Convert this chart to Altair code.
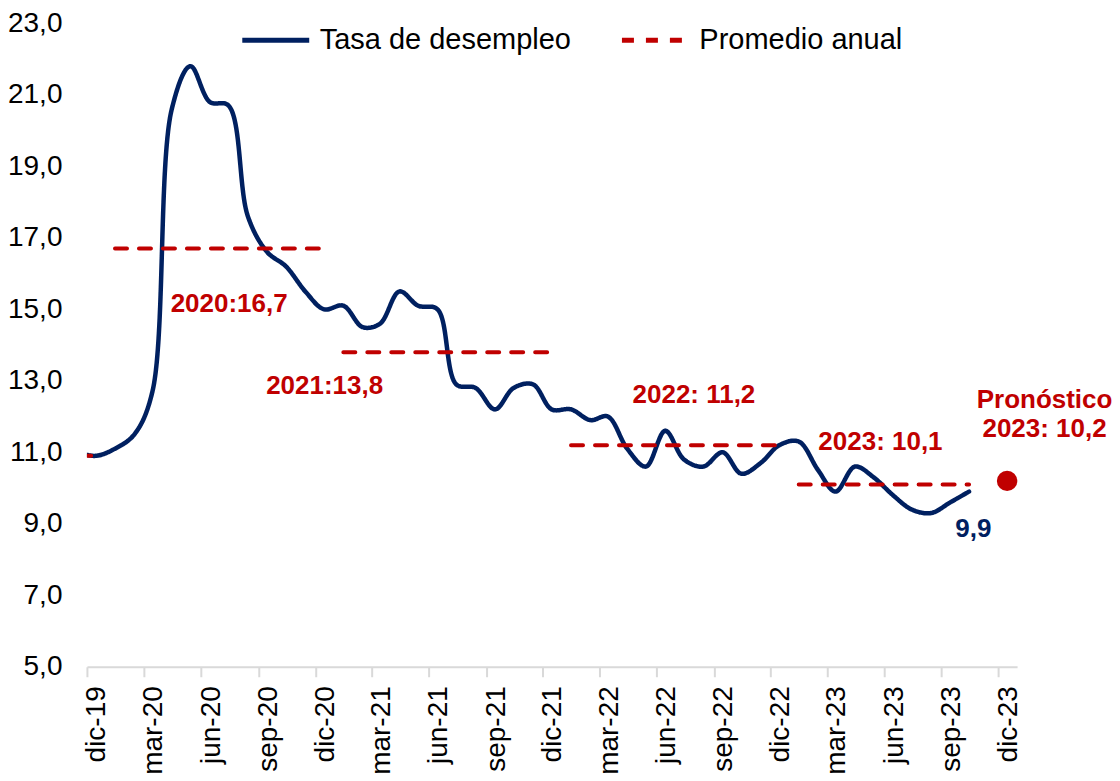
import json
import altair as alt
import pandas as pd

# ---------------- data ----------------
MESES = ["ene", "feb", "mar", "abr", "may", "jun", "jul", "ago", "sep", "oct", "nov", "dic"]

# monthly series nov-19 .. oct-23 (plotted at mid-month, like the original)
PRIMER_MES = "2019-11-01"
ULTIMO_MES = "2023-10-01"
TASA = [
    11.0, 10.9,                                                             # nov-19, dic-19
    11.1, 11.5, 12.7, 20.6, 21.8, 20.8, 20.7, 17.6, 16.6, 16.2, 15.5, 15.0,  # 2020
    15.1, 14.5, 14.6, 15.5, 15.1, 15.0, 12.9, 12.8, 12.2, 12.8, 12.9, 12.2,  # 2021
    12.2, 11.9, 12.0, 11.1, 10.6, 11.6, 10.8, 10.6, 11.0, 10.4, 10.7, 11.2,  # 2022
    11.3, 10.5, 9.9, 10.6, 10.3, 9.8, 9.4, 9.3, 9.6, 9.9,                    # 2023
]

ANIOS_PROM = [2019, 2020, 2021, 2022, 2023]
PROMEDIOS = [10.9, 16.7, 13.8, 11.2, 10.1]
PROM_INICIO = ["2019-01-15", "2020-01-15", "2021-01-15", "2022-01-15", "2023-01-15"]
PROM_FIN = ["2019-12-15", "2020-12-15", "2021-12-15", "2022-12-15", "2023-10-15"]

PRONOSTICO_FECHA = "2023-12-15"
PRONOSTICO = 10.2

ETIQUETAS = ["2020:16,7", "2021:13,8", "2022: 11,2", "2023: 10,1", "9,9", "Pronóstico\n2023: 10,2"]
ETQ_FECHA = ["2020-07-16", "2020-12-16", "2022-07-31", "2023-05-26", "2023-10-22", "2024-02-13"]
ETQ_VALOR = [15.15, 12.85, 12.6, 11.3, 8.86, 12.47]
ETQ_SERIE = ["Promedio anual"] * 4 + ["Tasa de desempleo", "Promedio anual"]

SERIES = ["Tasa de desempleo", "Promedio anual"]
Y_TICKS = [5, 7, 9, 11, 13, 15, 17, 19, 21, 23]
X_TICKS = pd.date_range("2019-12-01", "2023-12-01", freq="3MS")
X_DOMINIO = ["2019-12-01", "2023-12-31"]

# ---------------- styling ----------------
AZUL = "#002060"
ROJO = "#C00000"
FUENTE = "Liberation Sans"


def ms(d):
    return int(pd.Timestamp(d, tz="UTC").value // 10**6)


fechas = (pd.date_range(PRIMER_MES, ULTIMO_MES, freq="MS") + pd.Timedelta(days=14)).strftime("%Y-%m-%d")
df_tasa = pd.DataFrame({"fecha": list(fechas), "valor": TASA, "serie": SERIES[0]})

rows = []
for a, v, i, f in zip(ANIOS_PROM, PROMEDIOS, PROM_INICIO, PROM_FIN):
    rows.append({"fecha": i, "valor": v, "serie": SERIES[1], "anio": a})
    rows.append({"fecha": f, "valor": v, "serie": SERIES[1], "anio": a})
df_prom = pd.DataFrame(rows)

df_pron = pd.DataFrame({"fecha": [PRONOSTICO_FECHA], "valor": [PRONOSTICO]})
df_etq = pd.DataFrame({
    "fecha": ETQ_FECHA, "valor": ETQ_VALOR, "texto": ETIQUETAS,
    "color": [AZUL if s == SERIES[0] else ROJO for s in ETQ_SERIE],
})

label_expr = (json.dumps(MESES).replace('"', "'")
              + "[utcmonth(datum.value)] + '-' + utcFormat(datum.value, '%y')")

x_enc = alt.X(
    "fecha:T",
    title=None,
    scale=alt.Scale(type="utc", domain=[ms(X_DOMINIO[0]), ms(X_DOMINIO[1])]),
    axis=alt.Axis(
        values=[ms(t) for t in X_TICKS],
        labelExpr=label_expr,
        labelAngle=-90,
        labelFontSize=28,
        labelFont=FUENTE,
        labelColor="black",
        labelPadding=9,
        labelOffset=10,
        labelOverlap=False,
        labelFlush=False,
        labelBound=False,
        tickSize=10,
        tickWidth=2,
        tickColor="#D9D9D9",
        domainColor="#D9D9D9",
        domainWidth=2,
        grid=False,
    ),
)
y_enc = alt.Y(
    "valor:Q",
    title=None,
    scale=alt.Scale(domain=[5, 23], nice=False, zero=False),
    axis=alt.Axis(
        values=Y_TICKS,
        labelExpr="replace(format(datum.value, '.1f'), '.', ',')",
        labelFontSize=28,
        labelFont=FUENTE,
        labelColor="black",
        labelPadding=25,
        domain=False,
        ticks=False,
        grid=False,
    ),
)

leyenda = alt.Legend(
    title=None,
    orient="none",
    legendX=153,
    legendY=-19,
    direction="horizontal",
    symbolType="stroke",
    symbolSize=4489,
    symbolStrokeWidth=5,
    labelFontSize=29,
    labelFont=FUENTE,
    labelColor="black",
    labelOffset=8,
    labelLimit=400,
    columnPadding=40,
)
color_enc = alt.Color("serie:N", scale=alt.Scale(domain=SERIES, range=[AZUL, ROJO]), legend=leyenda)
dash_enc = alt.StrokeDash("serie:N", scale=alt.Scale(domain=SERIES, range=[[1, 0], [12, 12]]), legend=leyenda)

linea = alt.Chart(df_tasa).mark_line(
    strokeWidth=4.5, interpolate="catmull-rom", clip=True, strokeCap="round"
).encode(x=x_enc, y=y_enc, color=color_enc, strokeDash=dash_enc)

promedios = alt.Chart(df_prom).mark_line(
    strokeWidth=4, clip=True, strokeCap="round"
).encode(x=x_enc, y=y_enc, color=color_enc, strokeDash=dash_enc, detail="anio:N")

punto = alt.Chart(df_pron).mark_point(
    filled=True, size=420, color=ROJO, opacity=1, shape="circle"
).encode(x=x_enc, y=y_enc)

textos = alt.Chart(df_etq).mark_text(
    font=FUENTE, fontWeight="bold", fontSize=26, baseline="middle", align="center",
    lineBreak="\n", lineHeight=29,
).encode(x=x_enc, y=y_enc, text="texto:N", color=alt.Color("color:N", scale=None))

chart = alt.layer(linea, promedios, punto, textos).properties(
    width=931,
    height=644,
    autosize=alt.AutoSizeParams(type="none"),
    padding={"left": 79, "top": 15, "right": 95, "bottom": 112},
).configure_view(stroke=None)

chart.save("out.html", embed_options={"renderer": "svg", "actions": False})
